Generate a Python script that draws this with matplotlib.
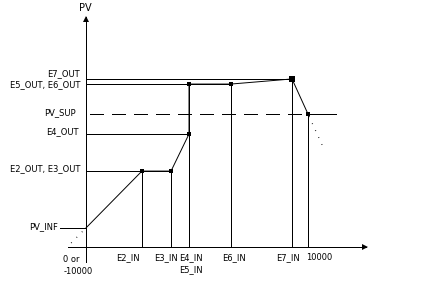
import numpy as np
import matplotlib
matplotlib.use("Agg")
import matplotlib.pyplot as plt

# breakpoints of the characteristic (input in % of range, PV in same scale)
in_names = ["E2_IN", "E3_IN", "E4_IN", "E5_IN", "E6_IN", "E7_IN"]
in_vals = [25.2, 38.3, 46.4, 46.4, 65.3, 92.8]
out_vals = [34.2, 34.2, 50.9, 73.4, 73.4, 75.7]
pv_inf = 8.6
pv_sup = 59.9
x_end = 100.0

y_labels = ["E7_OUT", "E5_OUT, E6_OUT", "PV_SUP", "E4_OUT", "E2_OUT, E3_OUT", "PV_INF"]
y_label_vals = [75.7, 73.4, 59.9, 50.9, 34.2, 8.6]
x_labels = ["E2_IN", "E3_IN", "E4_IN", "E6_IN", "E7_IN", "10000"]
x_label_vals = [25.2, 38.3, 46.4, 65.3, 92.8, 100.0]

S = 2.22  # pixels per data unit
PT = 0.72  # points per pixel


def pt(px):
    return px * PT


fig = plt.figure(figsize=(4.41, 2.92), dpi=100)
ax = fig.add_axes([0, 0, 1, 1])
ax.set_xlim(-86 / S, 355 / S)
ax.set_ylim(-45 / S, 247 / S)
ax.axis("off")

kw = dict(color="black", lw=0.6, antialiased=False, solid_capstyle="butt")
font = dict(fontsize=6, family="DejaVu Sans", color="black")

# axes with arrows
ax.plot([0, 0], [-15 / S, 230 / S], **kw)
ax.plot(0, 228 / S, marker="^", ms=4.5, color="black", mew=0)
ax.plot([-18 / S, 280 / S], [0, 0], **kw)
ax.plot(279 / S, 0, marker=">", ms=4.5, color="black", mew=0)
ax.annotate("PV", (0, 233 / S), xytext=(pt(-1), pt(1)), textcoords="offset points",
            ha="center", va="bottom", fontsize=7, family="DejaVu Sans")

# characteristic curve
cx = [0] + in_vals + [x_end]
cy = [pv_inf] + out_vals + [pv_sup]
ax.plot(cx, cy, color="black", lw=0.7)
ax.plot(in_vals[:-1] + [x_end], out_vals[:-1] + [pv_sup], ls="none", marker="s",
        ms=3.5, color="black", mew=0)
ax.plot(in_vals[-1], out_vals[-1], ls="none", marker="s", ms=4.3, color="black", mew=0)

# dotted extrapolation at both ends
s0 = (out_vals[0] - pv_inf) / in_vals[0]
ax.plot([0, -8.5], [pv_inf, pv_inf - 8.5 * s0], color="black", lw=0.9,
        ls=(2, (0.6, 5.5)))
s1 = (pv_sup - out_vals[-1]) / (x_end - in_vals[-1])
ax.plot([x_end, x_end + 6.5], [pv_sup, pv_sup + 6.5 * s1], color="black", lw=0.9,
        ls=(4, (0.6, 5.5)))

# horizontal guides
ax.plot([0, in_vals[1]], [out_vals[0]] * 2, **kw)
ax.plot([0, in_vals[2]], [out_vals[2]] * 2, **kw)
ax.plot([0, in_vals[4]], [out_vals[3]] * 2, **kw)
ax.plot([0, in_vals[5]], [out_vals[5]] * 2, **kw)
ax.plot([-26 / S, 0], [pv_inf] * 2, **kw)
ax.plot([1.8, x_end], [pv_sup] * 2, color="black", lw=0.6, antialiased=False,
        ls=(0, (16, 10)))
ax.plot([x_end, 250 / S], [pv_sup] * 2, **kw)

# vertical guides
for xv, yv in zip(in_vals + [x_end], out_vals + [pv_sup]):
    ax.plot([xv, xv], [0, yv], **kw)

# y labels
y_dx = [-6, -6, -10, -7, -6, -28]
y_dy = [5, -1, 1, 2, 2, 1]
for lab, yv, dx, dy in zip(y_labels, y_label_vals, y_dx, y_dy):
    ax.annotate(lab, (0, yv), xytext=(pt(dx), pt(dy)), textcoords="offset points",
                ha="right", va="center", **font)

# x labels
x_dx = [-14, -5.5, 2, 3, -4, 11]
for lab, xv, dx in zip(x_labels, x_label_vals, x_dx):
    ax.annotate(lab, (xv, 0), xytext=(pt(dx), pt(-11)), textcoords="offset points",
                ha="center", va="center", **font)
ax.annotate("E5_IN", (in_vals[3], 0), xytext=(pt(2), pt(-23)), textcoords="offset points",
            ha="center", va="center", **font)
ax.annotate("0 or", (0, 0), xytext=(pt(-15), pt(-12)), textcoords="offset points",
            ha="center", va="center", **font)
ax.annotate("-10000", (0, 0), xytext=(pt(-8), pt(-24)), textcoords="offset points",
            ha="center", va="center", **font)

fig.savefig("out.png", dpi=100, facecolor="white")
